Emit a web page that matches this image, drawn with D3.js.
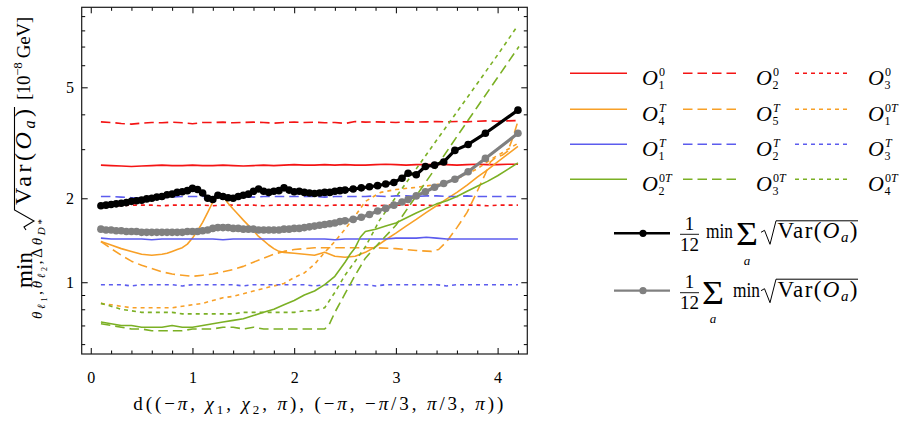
<!DOCTYPE html>
<html>
<head>
<meta charset="utf-8">
<script src="https://cdn.jsdelivr.net/npm/d3@7"></script>
<style>
  body { margin: 0; background: #fff; }
  svg { display: block; }
  svg text { font-family: "Liberation Serif", "Times New Roman", "DejaVu Serif", serif; }
</style>
</head>
<body>
<svg id="chart" width="904" height="425"></svg>
<script>
// ---- data -------------------------------------------------------------
// common abscissa for the nearly flat observables
const xFlat = [0.1,0.2,0.3,0.4,0.5,0.6,0.7,0.8,0.9,1.0,1.1,1.2,1.3,1.4,1.5,1.6,1.7,1.8,1.9,2.0,
               2.1,2.2,2.3,2.4,2.5,2.6,2.7,2.8,2.9,3.0,3.1,3.2,3.3,3.4,3.5,3.6,3.7,3.8,3.9,4.0,4.1,4.2];

const redSolid  = [2.63,2.62,2.61,2.60,2.61,2.62,2.63,2.62,2.62,2.63,2.62,2.62,2.63,2.62,2.61,2.62,2.63,2.62,2.63,2.64,
                   2.63,2.63,2.64,2.63,2.64,2.63,2.63,2.64,2.65,2.64,2.63,2.64,2.64,2.65,2.64,2.63,2.64,2.65,2.64,2.64,2.65,2.65];
const redDashed = [3.76,3.74,3.71,3.69,3.72,3.74,3.73,3.75,3.73,3.70,3.74,3.74,3.75,3.73,3.74,3.75,3.74,3.72,3.74,3.75,
                   3.74,3.75,3.73,3.74,3.71,3.77,3.75,3.76,3.75,3.74,3.76,3.75,3.76,3.77,3.76,3.77,3.76,3.78,3.79,3.78,3.79,3.80];
const redDotted = [1.89,1.89,1.88,1.89,1.89,1.89,1.88,1.89,1.89,1.89,1.89,1.88,1.89,1.89,1.89,1.89,1.88,1.89,1.89,1.89,
                   1.89,1.89,1.88,1.89,1.89,1.89,1.89,1.88,1.89,1.89,1.89,1.89,1.89,1.88,1.89,1.89,1.89,1.89,1.88,1.89,1.89,1.89];
const blueSolid = [1.44,1.43,1.43,1.43,1.43,1.42,1.43,1.43,1.43,1.43,1.43,1.43,1.42,1.43,1.43,1.43,1.43,1.43,1.43,1.43,
                   1.43,1.43,1.43,1.42,1.43,1.43,1.43,1.43,1.43,1.44,1.44,1.44,1.45,1.44,1.43,1.43,1.43,1.43,1.43,1.43,1.43,1.43];
const blueDashed = [2.03,2.03,2.02,2.01,2.00,2.00,2.01,2.02,2.03,2.03,2.03,2.02,2.03,2.03,2.03,2.02,2.03,2.03,2.03,2.03,
                    2.03,2.03,2.02,2.03,2.03,2.03,2.03,2.04,2.03,2.04,2.04,2.03,2.04,2.04,2.03,2.03,2.04,2.03,2.03,2.03,2.03,2.03];
const blueDotted = [0.98,0.98,0.98,0.97,0.98,0.98,0.98,0.98,0.97,0.98,0.98,0.98,0.98,0.98,0.97,0.98,0.98,0.98,0.98,0.98,
                    0.98,0.97,0.98,0.98,0.98,0.98,0.98,0.97,0.98,0.98,0.98,0.98,0.98,0.98,0.97,0.98,0.98,0.98,0.98,0.98,0.98,0.98];

// observables with a strong dependence on the distance: [d, value]
const orangeSolid = [[0.1,1.40],[0.2,1.36],[0.3,1.32],[0.4,1.29],[0.5,1.26],[0.6,1.25],[0.7,1.26],[0.75,1.27],[0.8,1.29],
  [0.85,1.31],[0.9,1.33],[0.95,1.37],[1.0,1.44],[1.05,1.53],[1.1,1.64],[1.15,1.78],[1.2,1.94],[1.25,2.03],[1.28,2.04],
  [1.31,2.01],[1.35,1.92],[1.4,1.83],[1.45,1.75],[1.5,1.67],[1.55,1.60],[1.6,1.53],[1.65,1.46],[1.7,1.41],[1.75,1.36],
  [1.8,1.32],[1.85,1.29],[1.9,1.28],[2.0,1.27],[2.1,1.26],[2.2,1.25],[2.3,1.28],[2.35,1.26],[2.4,1.24],[2.5,1.23],
  [2.6,1.24],[2.7,1.28],[2.8,1.34],[2.9,1.42],[3.0,1.50],[3.1,1.59],[3.2,1.68],[3.3,1.78],[3.4,1.88],[3.5,1.99],
  [3.6,2.10],[3.7,2.23],[3.8,2.38],[3.9,2.53],[4.0,2.70],[4.1,2.88],[4.2,3.07]];
const orangeDashed = [[0.1,1.40],[0.2,1.32],[0.3,1.25],[0.4,1.19],[0.5,1.15],[0.6,1.12],[0.7,1.09],[0.8,1.07],[0.9,1.06],
  [1.0,1.05],[1.1,1.06],[1.2,1.07],[1.3,1.09],[1.4,1.11],[1.5,1.14],[1.6,1.18],[1.7,1.22],[1.8,1.26],[1.9,1.29],[2.0,1.31],
  [2.2,1.33],[2.4,1.33],[2.6,1.33],[2.8,1.33],[3.0,1.32],[3.2,1.30],[3.35,1.29],[3.42,1.31],[3.5,1.40],[3.6,1.57],
  [3.7,1.78],[3.8,2.12],[3.88,2.45],[3.93,2.70],[3.98,2.80],[4.05,2.86],[4.1,2.95],[4.15,3.30],[4.2,3.78]];
const orangeDotted = [[0.1,0.84],[0.2,0.83],[0.3,0.82],[0.4,0.81],[0.5,0.81],[0.6,0.81],[0.7,0.81],[0.8,0.81],[0.9,0.82],
  [1.0,0.83],[1.1,0.84],[1.2,0.86],[1.3,0.88],[1.4,0.89],[1.5,0.91],[1.6,0.93],[1.7,0.95],[1.8,0.97],[1.9,0.99],[2.0,1.04],
  [2.1,1.08],[2.2,1.16],[2.3,1.28],[2.4,1.40],[2.5,1.55],[2.6,1.73],[2.7,1.95],[2.85,2.10],[3.0,2.15],[3.2,2.19],
  [3.4,2.24],[3.6,2.35],[3.8,2.55],[3.95,2.78],[4.05,2.92],[4.2,3.15]];
const greenSolid = [[0.1,0.72],[0.2,0.71],[0.3,0.70],[0.4,0.70],[0.5,0.69],[0.6,0.69],[0.7,0.69],[0.8,0.70],[0.9,0.69],
  [1.0,0.69],[1.1,0.70],[1.2,0.71],[1.3,0.72],[1.4,0.73],[1.5,0.74],[1.6,0.76],[1.7,0.78],[1.8,0.80],[1.9,0.83],[2.0,0.86],
  [2.1,0.90],[2.2,0.93],[2.3,0.98],[2.4,1.05],[2.5,1.18],[2.55,1.26],[2.6,1.33],[2.65,1.45],[2.7,1.52],[2.8,1.55],
  [2.9,1.59],[3.0,1.63],[3.1,1.70],[3.2,1.77],[3.3,1.84],[3.4,1.91],[3.5,1.96],[3.6,2.03],[3.7,2.12],[3.8,2.21],
  [3.9,2.30],[4.0,2.41],[4.1,2.54],[4.2,2.68]];
const greenDashed = [[0.1,0.71],[0.2,0.70],[0.3,0.69],[0.4,0.68],[0.5,0.68],[0.6,0.67],[0.7,0.67],[0.8,0.67],[0.9,0.67],
  [1.0,0.68],[1.1,0.68],[1.2,0.68],[1.3,0.69],[1.4,0.69],[1.5,0.68],[1.6,0.69],[1.7,0.68],[1.8,0.68],[1.9,0.68],[2.0,0.68],
  [2.1,0.68],[2.2,0.68],[2.3,0.68],[2.34,0.70],[2.4,0.78],[2.5,0.91],[2.6,1.06],[2.7,1.22],[2.8,1.34],[3.0,1.60],
  [3.2,2.04],[3.4,2.60],[3.6,3.33],[3.8,4.25],[4.0,5.42],[4.21,7.00]];
const greenDotted = [[0.1,0.84],[0.2,0.82],[0.3,0.80],[0.4,0.79],[0.5,0.78],[0.6,0.78],[0.7,0.78],[0.8,0.78],[0.9,0.77],
  [1.0,0.77],[1.1,0.77],[1.2,0.77],[1.3,0.77],[1.4,0.77],[1.5,0.78],[1.6,0.78],[1.7,0.78],[1.8,0.78],[1.9,0.78],[2.0,0.78],
  [2.1,0.79],[2.2,0.79],[2.3,0.81],[2.4,0.92],[2.5,1.06],[2.6,1.19],[2.7,1.34],[2.84,1.67],[3.0,2.02],[3.2,2.55],
  [3.4,3.23],[3.6,4.08],[3.8,5.16],[4.0,6.53],[4.18,8.14]];

// averaged quantities, sampled on a common grid
const markerX = [0.10,0.15,0.20,0.25,0.30,0.35,0.40,0.45,0.50,0.55,0.60,0.65,0.70,0.75,0.80,0.85,0.90,0.95,1.00,1.05,
                 1.10,1.15,1.20,1.25,1.30,1.35,1.40,1.45,1.50,1.55,1.60,1.65,1.70,1.75,1.80,1.85,1.90,1.95,2.00,2.05,
                 2.10,2.15,2.20,2.25,2.30,2.35,2.40,2.45,2.50,
                 2.58,2.66,2.74,2.82,2.90,2.98,3.06,3.12,3.20,3.29,3.38,3.47,3.58,3.71,3.88,4.20];
const minOfSum = [1.88,1.89,1.90,1.91,1.92,1.93,1.95,1.96,1.97,1.99,2.00,2.02,2.03,2.06,2.07,2.10,2.11,2.13,2.17,2.15,
                  2.09,2.00,1.98,2.05,2.03,2.01,2.00,2.03,2.05,2.07,2.12,2.16,2.12,2.10,2.12,2.13,2.18,2.14,2.11,2.12,
                  2.10,2.09,2.08,2.09,2.10,2.10,2.12,2.13,2.14,
                  2.16,2.18,2.20,2.22,2.25,2.28,2.36,2.46,2.43,2.60,2.63,2.70,2.97,3.12,3.42,4.14];
const sumOfMin = [1.55,1.54,1.54,1.53,1.53,1.52,1.52,1.52,1.51,1.51,1.51,1.51,1.51,1.51,1.51,1.51,1.51,1.52,1.52,1.52,
                  1.53,1.54,1.56,1.57,1.57,1.57,1.56,1.56,1.55,1.55,1.55,1.54,1.54,1.54,1.54,1.54,1.55,1.55,1.56,1.56,
                  1.57,1.58,1.59,1.60,1.61,1.62,1.63,1.65,1.66,
                  1.68,1.71,1.75,1.80,1.84,1.89,1.94,1.98,2.04,2.11,2.19,2.26,2.34,2.49,2.78,3.42];

// axis ticks
const xMajor = [0,1,2,3,4];
const xMinor = [0.2,0.4,0.6,0.8,1.2,1.4,1.6,1.8,2.2,2.4,2.6,2.8,3.2,3.4,3.6,3.8,4.2];
const yMajor = [1,2,5];
const yMinor = [0.6,0.7,0.8,0.9,3,4,6,7,8,9];

// legend labels: [subscript, superscript]
const legendLabels = [["1","0"],["2","0"],["3","0"],
                      ["4","T"],["5","T"],["1","0T"],
                      ["1","T"],["2","T"],["3","T"],
                      ["2","0T"],["3","0T"],["4","0T"]];

// ---- drawing ----------------------------------------------------------
const FONT = '"Liberation Serif", "Times New Roman", "DejaVu Serif", serif';
const RED = "#f41414", ORANGE = "#f8a027", BLUE = "#5c5cee", GREEN = "#7bb024";
const DASH = "9.5,5", DOT = "4,4";

const svg = d3.select("#chart").attr("font-family", FONT);
const P = { left: 81.7, right: 527.3, top: 7.3, bottom: 354 };
const x = d3.scaleLinear().domain([-0.089, 4.292]).range([P.left, P.right]);
const y = d3.scaleLog().domain([0.553, 9.68]).range([P.bottom, P.top]);

svg.append("clipPath").attr("id", "plotclip").append("rect")
  .attr("x", P.left).attr("y", P.top).attr("width", P.right - P.left).attr("height", P.bottom - P.top);

const plot = svg.append("g").attr("clip-path", "url(#plotclip)");
const line = d3.line().x(d => x(d[0])).y(d => y(d[1]));

const series = [
  { pts: d3.zip(xFlat, redSolid),  color: RED,    dash: null },
  { pts: d3.zip(xFlat, redDashed), color: RED,    dash: DASH },
  { pts: d3.zip(xFlat, redDotted), color: RED,    dash: DOT },
  { pts: orangeSolid,  color: ORANGE, dash: null },
  { pts: orangeDashed, color: ORANGE, dash: DASH },
  { pts: orangeDotted, color: ORANGE, dash: DOT },
  { pts: d3.zip(xFlat, blueSolid),  color: BLUE, dash: null },
  { pts: d3.zip(xFlat, blueDashed), color: BLUE, dash: DASH },
  { pts: d3.zip(xFlat, blueDotted), color: BLUE, dash: DOT },
  { pts: greenSolid,  color: GREEN, dash: null },
  { pts: greenDashed, color: GREEN, dash: DASH },
  { pts: greenDotted, color: GREEN, dash: DOT }
];

plot.selectAll("path.obs").data(series).join("path")
  .attr("class", "obs")
  .attr("d", d => line(d.pts))
  .attr("fill", "none")
  .attr("stroke", d => d.color)
  .attr("stroke-width", 1.6)
  .attr("stroke-dasharray", d => d.dash)
  .attr("stroke-linejoin", "round");

function markerSeries(vals, color, width, r) {
  const pts = d3.zip(markerX, vals);
  plot.append("path").attr("d", line(pts)).attr("fill", "none")
    .attr("stroke", color).attr("stroke-width", width).attr("stroke-linejoin", "round");
  plot.append("g").selectAll("circle").data(pts).join("circle")
    .attr("cx", d => x(d[0])).attr("cy", d => y(d[1])).attr("r", r).attr("fill", color);
}
markerSeries(minOfSum, "#000", 3.2, 3.8);
markerSeries(sumOfMin, "#808080", 3.2, 3.8);

// ---- axes (ticks inside on all four sides) ----------------------------
function styleAxis(g) {
  g.attr("font-family", FONT);
  g.select(".domain").remove();
  g.selectAll(".tick line").attr("stroke", "#000").attr("stroke-width", 1);
  g.selectAll(".tick text").attr("font-family", FONT).attr("font-size", 16).attr("fill", "#000");
}
const fmt = d3.format("d");
svg.append("g").attr("transform", `translate(0,${P.bottom})`)
  .call(d3.axisBottom(x).tickValues(xMajor).tickSize(-6).tickPadding(17.6).tickFormat(fmt)).call(styleAxis);
svg.append("g").attr("transform", `translate(0,${P.bottom})`)
  .call(d3.axisBottom(x).tickValues(xMinor).tickSize(-3.5).tickFormat("")).call(styleAxis);
svg.append("g").attr("transform", `translate(0,${P.top})`)
  .call(d3.axisTop(x).tickValues(xMajor).tickSize(-6).tickFormat("")).call(styleAxis);
svg.append("g").attr("transform", `translate(0,${P.top})`)
  .call(d3.axisTop(x).tickValues(xMinor).tickSize(-3.5).tickFormat("")).call(styleAxis);
svg.append("g").attr("transform", `translate(${P.left},0)`)
  .call(d3.axisLeft(y).tickValues(yMajor).tickSize(-6).tickPadding(7.7).tickFormat(fmt)).call(styleAxis);
svg.append("g").attr("transform", `translate(${P.left},0)`)
  .call(d3.axisLeft(y).tickValues(yMinor).tickSize(-3.5).tickFormat("")).call(styleAxis);
svg.append("g").attr("transform", `translate(${P.right},0)`)
  .call(d3.axisRight(y).tickValues(yMajor).tickSize(-6).tickFormat("")).call(styleAxis);
svg.append("g").attr("transform", `translate(${P.right},0)`)
  .call(d3.axisRight(y).tickValues(yMinor).tickSize(-3.5).tickFormat("")).call(styleAxis);

svg.append("rect").attr("x", P.left).attr("y", P.top)
  .attr("width", P.right - P.left).attr("height", P.bottom - P.top)
  .attr("fill", "none").attr("stroke", "#1a1a1a").attr("stroke-width", 1.2);

// ---- axis titles ------------------------------------------------------
const xt = svg.append("text").attr("x", 318.3).attr("y", 409.5).attr("text-anchor", "middle")
  .attr("font-size", 19).attr("textLength", 370).attr("lengthAdjust", "spacing");
xt.append("tspan").text("d((−");
xt.append("tspan").attr("font-style", "italic").text("π");
xt.append("tspan").text(", ");
xt.append("tspan").attr("font-style", "italic").text("χ");
xt.append("tspan").attr("font-size", 13).attr("dy", 4).text("1");
xt.append("tspan").attr("dy", -4).text(", ");
xt.append("tspan").attr("font-style", "italic").text("χ");
xt.append("tspan").attr("font-size", 13).attr("dy", 4).text("2");
xt.append("tspan").attr("dy", -4).text(", ");
xt.append("tspan").attr("font-style", "italic").text("π");
xt.append("tspan").text("), (−");
xt.append("tspan").attr("font-style", "italic").text("π");
xt.append("tspan").text(", −");
xt.append("tspan").attr("font-style", "italic").text("π");
xt.append("tspan").text("/3, ");
xt.append("tspan").attr("font-style", "italic").text("π");
xt.append("tspan").text("/3, ");
xt.append("tspan").attr("font-style", "italic").text("π");
xt.append("tspan").text("))");

// rotated y title
svg.append("text").attr("transform", "translate(31.5,270) rotate(-90)")
  .attr("text-anchor", "middle").attr("font-size", 23).text("min");

const ysub = svg.append("text").attr("transform", "translate(42,269) rotate(-90)")
  .attr("text-anchor", "middle").attr("font-size", 15).attr("textLength", 100).attr("lengthAdjust", "spacing");
[["θ", 0, 15, true], ["ℓ", 2.5, 11, true], ["1", 2, 8, false], [",", -4.5, 15, false],
 ["θ", 0, 15, true], ["ℓ", 2.5, 11, true], ["2", 2, 8, false], [",", -4.5, 15, false],
 ["Δ", 0, 15, false], ["θ", 0, 15, true], ["D", 2.5, 11, true], ["*", 0, 11, false]]
  .forEach(([t, dy, fs, it]) => ysub.append("tspan").attr("dy", dy).attr("font-size", fs)
    .attr("font-style", it ? "italic" : null).text(t));

const sq = svg.append("g").attr("transform", "translate(31,230) rotate(-90)");
sq.append("path").attr("d", "M0,-5 L3,-7 L9,3 L20,-16.5 L123,-16.5")
  .attr("fill", "none").attr("stroke", "#000").attr("stroke-width", 1.1).attr("stroke-linejoin", "miter");
const sqt = sq.append("text").attr("x", 25).attr("y", 0).attr("font-size", 24)
  .attr("textLength", 96).attr("lengthAdjust", "spacing");
sqt.append("tspan").text("Var(");
sqt.append("tspan").attr("font-style", "italic").text("O");
sqt.append("tspan").attr("font-style", "italic").attr("font-size", 16).attr("dy", 4).text("a");
sqt.append("tspan").attr("dy", -4).text(")");

const unit = svg.append("text").attr("transform", "translate(30,100) rotate(-90)")
  .attr("font-size", 19).attr("textLength", 83).attr("lengthAdjust", "spacing");
unit.append("tspan").text("[10");
unit.append("tspan").attr("font-size", 13).attr("dy", -8).text("−8");
unit.append("tspan").attr("dy", 8).text(" GeV]");

// ---- legend -----------------------------------------------------------
const rowY = [73.3, 109.3, 144.3, 179.3];
const colLine = [[570, 627], [683, 740], [795, 851]];
const colText = [642, 756, 868];
const leg = svg.append("g");
series.forEach((s, i) => {
  const r = Math.floor(i / 3), c = i % 3;
  const yy = rowY[r];
  leg.append("line").attr("x1", colLine[c][0]).attr("x2", colLine[c][1])
    .attr("y1", yy).attr("y2", yy).attr("stroke", s.color).attr("stroke-width", 1.6)
    .attr("stroke-dasharray", s.dash);
  const [sub, sup] = legendLabels[i];
  const tx = colText[c];
  leg.append("text").attr("x", tx).attr("y", yy + 11.7).attr("font-size", 22)
    .attr("font-style", "italic").text("O");
  const st = leg.append("text").attr("x", tx + 17).attr("y", yy + 2.2).attr("font-size", 12);
  sup.split("").forEach(ch => st.append("tspan").attr("font-style", ch === "T" ? "italic" : null).text(ch));
  leg.append("text").attr("x", tx + 16.5).attr("y", yy + 15.6).attr("font-size", 12).text(sub);
});

// formula legend entries
function formulaEntry(yl, color, lw, minFirst) {
  const g = svg.append("g");
  g.append("line").attr("x1", 614).attr("x2", 670).attr("y1", yl).attr("y2", yl)
    .attr("stroke", color).attr("stroke-width", lw);
  g.append("circle").attr("cx", 643).attr("cy", yl).attr("r", 3.6).attr("fill", color);
  const base = yl + (minFirst ? 5 : 6);
  const bar = base - 4;
  g.append("text").attr("x", 689.5).attr("y", bar - 4.5).attr("text-anchor", "middle").attr("font-size", 19).text("1");
  g.append("line").attr("x1", 680).attr("x2", 699).attr("y1", bar).attr("y2", bar)
    .attr("stroke", "#000").attr("stroke-width", 0.9);
  g.append("text").attr("x", 689.5).attr("y", bar + 16.5).attr("text-anchor", "middle").attr("font-size", 19).text("12");
  const minX = minFirst ? 706 : 733;
  const sigX = minFirst ? 736 : 702;
  g.append("text").attr("x", minX).attr("y", base).attr("font-size", 20)
    .attr("textLength", 27).attr("lengthAdjust", "spacingAndGlyphs").text("min");
  g.append("text").attr("x", sigX).attr("y", base + 7).attr("font-size", 33)
    .attr("textLength", 22).attr("lengthAdjust", "spacingAndGlyphs").text("Σ");
  g.append("text").attr("x", sigX + 11).attr("y", base + 26.5).attr("text-anchor", "middle")
    .attr("font-size", 13).attr("font-style", "italic").text("a");
  const top = base - 17.5;
  g.append("path").attr("d", `M761,${base - 6} L764.5,${base - 8} L770,${base + 6} L776,${top} L858,${top}`)
    .attr("fill", "none").attr("stroke", "#000").attr("stroke-width", 1);
  const t = g.append("text").attr("x", 777.5).attr("y", base).attr("font-size", 23)
    .attr("textLength", 80).attr("lengthAdjust", "spacing");
  t.append("tspan").text("Var(");
  t.append("tspan").attr("font-style", "italic").text("O");
  t.append("tspan").attr("font-style", "italic").attr("font-size", 15).attr("dy", 4).text("a");
  t.append("tspan").attr("dy", -4).text(")");
}
formulaEntry(233.3, "#000", 2.6, true);
formulaEntry(290.7, "#808080", 2.2, false);
</script>
</body>
</html>
